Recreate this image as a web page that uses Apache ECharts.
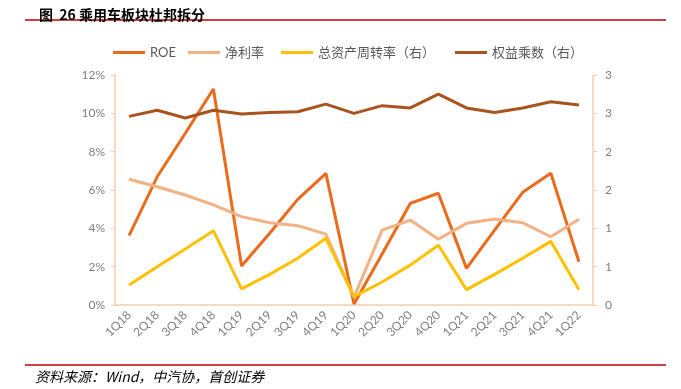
<!DOCTYPE html>
<html><head><meta charset="utf-8">
<script src="https://cdn.jsdelivr.net/npm/echarts@6/dist/echarts.min.js"></script>
<style>html,body{margin:0;padding:0;background:#fff}#c{width:681px;height:389px}</style>
</head><body><div id="c"></div>
<script>
const categories = ['1Q18','2Q18','3Q18','4Q18','1Q19','2Q19','3Q19','4Q19','1Q20','2Q20','3Q20','4Q20','1Q21','2Q21','3Q21','4Q21','1Q22'];
const roe = [3.62,6.69,8.96,11.27,2.03,3.74,5.51,6.87,0.05,2.66,5.30,5.83,1.91,3.91,5.88,6.87,2.26];
const netMargin = [6.56,6.17,5.74,5.22,4.61,4.29,4.14,3.70,0.40,3.91,4.43,3.43,4.26,4.49,4.29,3.56,4.47];
const assetTurnover = [0.26,0.50,0.73,0.97,0.21,0.40,0.61,0.87,0.11,0.30,0.52,0.78,0.20,0.40,0.61,0.83,0.20];
const equityMultiplier = [2.46,2.54,2.44,2.54,2.49,2.51,2.52,2.62,2.50,2.60,2.57,2.75,2.57,2.51,2.57,2.65,2.61];
const seriesNames = ['ROE','净利率','总资产周转率（右）','权益乘数（右）'];
const leftTicks = {min:0,max:12,interval:2};
const rightTicks = {min:0,max:3,interval:0.5};

const chart = echarts.init(document.getElementById('c'));
const font = "Lato, 'Noto Sans CJK SC', sans-serif";
const axisColor = '#F8CBAD';
const legendLeft = [113,188,281,455];
chart.setOption({
  animation:false,
  textStyle:{fontFamily:font},
  title:{text:'图  26 乘用车板块杜邦拆分',left:34,top:3,textStyle:{fontSize:14,fontWeight:'bold',color:'#000',fontFamily:"'Noto Sans CJK SC', serif"}},
  graphic:[
    {type:'line',shape:{x1:25,y1:20,x2:666,y2:20},style:{stroke:'#C00000',lineWidth:1.3}},
    {type:'line',shape:{x1:25,y1:365,x2:666,y2:365},style:{stroke:'#C00000',lineWidth:1.3}},
    {type:'text',left:35,top:370,style:{text:'资料来源：Wind，中汽协，首创证券',font:"italic 14px 'Noto Sans CJK SC'",fill:'#000'}}
  ],
  legend:seriesNames.map((n,i)=>({data:[n],top:46,left:legendLeft[i],padding:0,itemWidth:32,itemHeight:3,icon:'rect',
    textStyle:{fontSize:13,color:'#595959',fontFamily:font}})),
  grid:{left:115,right:88,top:75,bottom:84},
  xAxis:{type:'category',data:categories,boundaryGap:true,
    axisLine:{lineStyle:{color:axisColor,width:1.5}},axisTick:{show:false},
    axisLabel:{rotate:45,color:'#7f7f7f',fontSize:12,margin:8,interval:0}},
  yAxis:[
    {type:'value',min:leftTicks.min,max:leftTicks.max,interval:leftTicks.interval,
     axisLine:{show:true,lineStyle:{color:axisColor,width:1.5}},axisTick:{show:true,length:4,lineStyle:{color:axisColor}},
     splitLine:{show:false},axisLabel:{formatter:v=>v+'%',color:'#7f7f7f',fontSize:12,margin:10}},
    {type:'value',min:rightTicks.min,max:rightTicks.max,interval:rightTicks.interval,position:'right',
     axisLine:{show:true,lineStyle:{color:axisColor,width:1.5}},axisTick:{show:true,length:4,lineStyle:{color:axisColor}},
     splitLine:{show:false},axisLabel:{formatter:v=>String(Math.round(v)),color:'#7f7f7f',fontSize:12,margin:12}}
  ],
  series:[
    {name:seriesNames[0],type:'line',data:roe,yAxisIndex:0,symbol:'none',lineStyle:{width:3,color:'#EB6A1C'},itemStyle:{color:'#EB6A1C'}},
    {name:seriesNames[1],type:'line',data:netMargin,yAxisIndex:0,symbol:'none',lineStyle:{width:3,color:'#F4B183'},itemStyle:{color:'#F4B183'}},
    {name:seriesNames[2],type:'line',data:assetTurnover,yAxisIndex:1,symbol:'none',lineStyle:{width:3,color:'#FFC000'},itemStyle:{color:'#FFC000'}},
    {name:seriesNames[3],type:'line',data:equityMultiplier,yAxisIndex:1,symbol:'none',lineStyle:{width:3,color:'#A9541E'},itemStyle:{color:'#A9541E'}}
  ]
});
</script></body></html>
